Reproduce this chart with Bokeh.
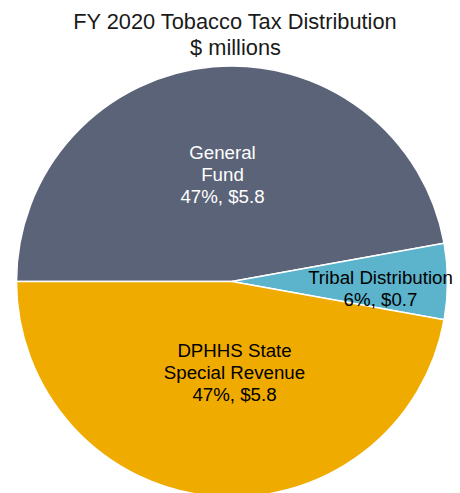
import math
from bokeh.plotting import figure
from bokeh.models import Range1d
from bokeh.core.properties import value
from bokeh.embed import file_html
from bokeh.resources import INLINE

# ---- data ----
categories = ["General Fund", "Tribal Distribution", "DPHHS State Special Revenue"]
amounts = [5.8, 0.7, 5.8]  # $ millions
label_lines = [["General", "Fund"], ["Tribal Distribution"], ["DPHHS State", "Special Revenue"]]
colors = ["#5b6378", "#5bb3cc", "#f0ab00"]
text_colors = ["#ffffff", "#000000", "#000000"]
title_lines = ["FY 2020 Tobacco Tax Distribution", "$ millions"]

# ---- layout (page pixels) ----
W, H = 460, 493
OX, OY = 0, 0
def px(x):
    return x
def py(y):  # page y -> data y
    return OY + H - y

CX, CY, R = 231.5, 281.0, 215.5
TITLE_X = 235
# label block centres (page pixels)
label_pos = [(222, 174), (380, 288), (234, 372)]
LINE_H = 22.0
FONT = "Liberation Sans"

p = figure(width=W, height=H, output_backend="svg", toolbar_location=None,
           x_axis_type=None, y_axis_type=None, min_border=0,
           x_range=Range1d(OX, OX + W), y_range=Range1d(0, H))
p.outline_line_color = None
p.grid.visible = False
p.background_fill_color = "white"

total = sum(amounts)
start = math.pi
for amt, col in zip(amounts, colors):
    sweep = 2 * math.pi * amt / total
    end = start - sweep
    p.wedge(x=px(CX), y=py(CY), radius=R, start_angle=start, end_angle=end,
            direction="clock", fill_color=col, line_color="white", line_width=1.5)
    start = end

# data labels
for amt, lines, (lx, ly), tc in zip(amounts, label_lines, label_pos, text_colors):
    pct = round(100 * amt / total)
    all_lines = lines + [f"{pct}%, ${amt:.1f}"]
    n = len(all_lines)
    for i, t in enumerate(all_lines):
        yy = ly + (i - (n - 1) / 2) * LINE_H
        p.text(x=[lx], y=[py(yy)], text=[t], text_align="center", text_baseline="middle",
               text_font=value(FONT), text_font_size="18.7px", text_color=tc)

# title
for i, t in enumerate(title_lines):
    p.text(x=[TITLE_X], y=[py(21 + i * 25.5)], text=[t], text_align="center", text_baseline="middle",
           text_font=value(FONT), text_font_size="21.8px", text_color="#1a1a1a")

open("out.html", "w").write(file_html(p, INLINE))
